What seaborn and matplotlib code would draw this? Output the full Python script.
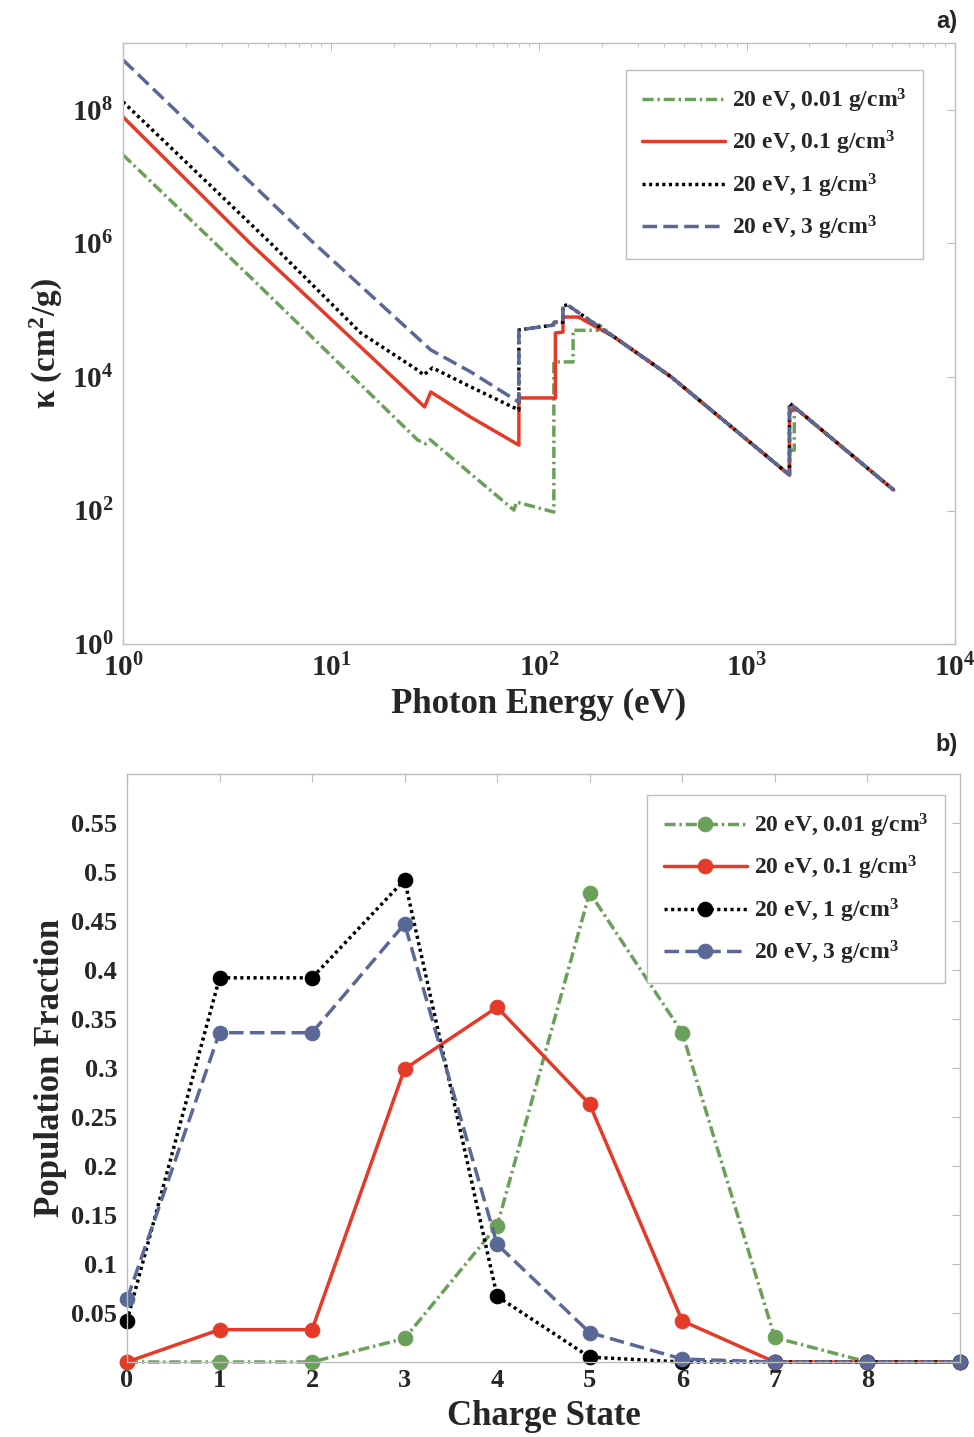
import numpy as np
import pandas as pd
import matplotlib
matplotlib.use("Agg")
import matplotlib.pyplot as plt
import matplotlib.ticker as mticker
import seaborn as sns

# ------------------- Data -------------------

labels = ["20 eV, 0.01 g/cm$^3$", "20 eV, 0.1 g/cm$^3$",
          "20 eV, 1 g/cm$^3$", "20 eV, 3 g/cm$^3$"]

# panel a: opacity kappa (cm^2/g) vs photon energy (eV)
green_E = [1, 4.09, 26.1, 28.5, 30.0, 75.8, 78, 118, 118, 146, 146, 192, 195,
           230, 433, 1603, 1603, 1690, 1690, 5080]
green_k = [2.12e7, 3.15e5, 1.14e3, 1.0e3, 1.15e3, 101.6, 134, 95, 1.68e4, 1.68e4,
           5.0e4, 5.0e4, 6.0e4, 3.97e4, 1.0e4, 340, 800, 800, 3.5e3, 203]

red_E = [1, 4.09, 28.2, 30.2, 47, 80.1, 80.1, 120, 120, 130.5, 130.5, 155,
         230, 433, 1603, 1603, 1700, 5080]
red_k = [7.85e7, 1.0e6, 3.56e3, 5.96e3, 2.5e3, 955, 4.85e3, 4.85e3, 4.57e4,
         4.7e4, 7.9e4, 7.9e4, 3.97e4, 1.0e4, 340, 2.9e3, 3.5e3, 203]

black_E = [1, 5.11, 13.9, 26.1, 27.9, 30.8, 47, 80.1, 80.1, 118, 118, 130.5,
           130.5, 137, 230, 433, 1603, 1603, 5080]
black_k = [1.32e8, 1.02e6, 4.57e4, 1.27e4, 1.07e4, 1.37e4, 7.1e3, 3.2e3, 5.06e4,
           6.0e4, 6.6e4, 6.6e4, 1.16e5, 1.2e5, 3.97e4, 1.0e4, 340, 4.07e3, 203]

blue_E = [1, 7.96, 30.2, 47, 80.1, 80.1, 118, 118, 130.5, 130.5, 137, 230, 433,
          1603, 1603, 5080]
blue_k = [5.6e8, 1.13e6, 2.54e4, 1.19e4, 4.2e3, 5.06e4, 6.0e4, 6.6e4, 6.6e4,
          1.16e5, 1.2e5, 3.97e4, 1.0e4, 340, 4.07e3, 203]

# panel b: population fraction vs charge state
charge = [0, 1, 2, 3, 4, 5, 6, 7, 8, 9]
pop_001 = [0, 0, 0, 0.024, 0.139, 0.479, 0.336, 0.025, 0, 0]
pop_01 = [0, 0.033, 0.033, 0.299, 0.362, 0.263, 0.042, 0, 0, 0]
pop_1 = [0.042, 0.392, 0.392, 0.492, 0.067, 0.005, 0, 0, 0, 0]
pop_3 = [0.064, 0.336, 0.336, 0.447, 0.120, 0.030, 0.003, 0, 0, 0]

colors = ["#6ba05a", "#e63a28", "#000000", "#5a6896"]
styles = [(0, (3.2, 1.1, 0.7, 1.1)), "-", (0, (0.9, 1.0)), (0, (4.2, 1.8))]

# ------------------- Style -------------------
sns.set_style("white")
plt.rcParams['font.family'] = ['Liberation Serif', 'DejaVu Serif']
plt.rcParams['font.weight'] = 'bold'
plt.rcParams['mathtext.fontset'] = 'custom'
plt.rcParams['mathtext.rm'] = 'Liberation Serif:bold'
plt.rcParams['mathtext.bf'] = 'Liberation Serif:bold'
plt.rcParams['mathtext.it'] = 'Liberation Serif:bold:italic'

SPINE = "#bdbdbd"
LW = 2.5


def style_axes(ax, labelsize):
    for s in ax.spines.values():
        s.set_color(SPINE)
        s.set_linewidth(1.0)
    ax.tick_params(which='both', direction='in', top=True, right=True,
                   color=SPINE, labelsize=labelsize, pad=7)
    ax.tick_params(which='major', length=6)
    ax.tick_params(which='minor', length=3)


def add_legend(ax, anchor):
    leg = ax.legend(loc='upper right', bbox_to_anchor=anchor, fontsize=17,
                    handlelength=3.5, handletextpad=0.3, labelspacing=0.6,
                    borderpad=0.7, borderaxespad=0.0,
                    fancybox=False, edgecolor=SPINE, framealpha=1)
    leg.get_frame().set_linewidth(1.0)
    return leg


fig = plt.figure(figsize=(9.74, 14.37), dpi=100)

# ------------------- Panel a -------------------
ax1 = fig.add_axes([0.1263, 0.5518, 0.854, 0.4182])
series_a = [(green_E, green_k), (red_E, red_k), (black_E, black_k), (blue_E, blue_k)]
for (E, k), lab, c, ls in zip(series_a, labels, colors, styles):
    sns.lineplot(x=E, y=k, ax=ax1, estimator=None, sort=False, color=c,
                 linestyle=ls, linewidth=LW, label=lab)
ax1.set_xscale('log')
ax1.set_yscale('log')
ax1.set_xlim(1, 1e4)
ax1.set_ylim(1, 1e9)
ax1.xaxis.set_major_locator(mticker.FixedLocator([1, 10, 100, 1000, 10000]))
ax1.xaxis.set_minor_locator(mticker.LogLocator(base=10, subs=np.arange(2, 10), numticks=20))
ax1.yaxis.set_major_locator(mticker.FixedLocator([1, 1e2, 1e4, 1e6, 1e8]))
ax1.yaxis.set_minor_locator(mticker.NullLocator())
pow_fmt = mticker.FuncFormatter(lambda v, p: r'$\mathbf{10^{%d}}$' % round(np.log10(v)))
ax1.xaxis.set_major_formatter(pow_fmt)
ax1.yaxis.set_major_formatter(pow_fmt)
style_axes(ax1, 21)
ax1.set_xlabel("Photon Energy (eV)", fontsize=25, fontweight='bold', labelpad=4)
ax1.set_ylabel("κ (cm$^{2}$/g)", fontsize=24, fontweight='bold', labelpad=5)
add_legend(ax1, (0.962, 0.955))

# ------------------- Panel b -------------------
ax2 = fig.add_axes([0.1304, 0.0522, 0.855, 0.4092])
series_b = [pop_001, pop_01, pop_1, pop_3]
for pop, lab, c, ls in zip(series_b, labels, colors, styles):
    sns.lineplot(x=charge, y=pop, ax=ax2, estimator=None, sort=False, color=c,
                 linestyle=ls, linewidth=LW, marker='o', markersize=10.5,
                 markeredgecolor=c, label=lab, clip_on=False)
ax2.set_xlim(0, 9)
ax2.set_ylim(0, 0.6)
ax2.set_xticks(range(0, 9))
yt = [0.05, 0.1, 0.15, 0.2, 0.25, 0.3, 0.35, 0.4, 0.45, 0.5, 0.55]
ax2.set_yticks(yt)
ax2.set_yticklabels([f"{v:g}" for v in yt])
style_axes(ax2, 19)
ax2.tick_params(axis='x', pad=5)
ax2.set_xlabel("Charge State", fontsize=25, fontweight='bold', labelpad=6)
ax2.set_ylabel("Population Fraction", fontsize=25, fontweight='bold', labelpad=3)
add_legend(ax2, (0.982, 0.964))

# panel tags
fig.text(0.972, 0.985, "a)", ha='center', va='center', fontsize=17,
         fontweight='bold', family='Liberation Sans')
fig.text(0.972, 0.482, "b)", ha='center', va='center', fontsize=17,
         fontweight='bold', family='Liberation Sans')

fig.savefig("out.png", dpi=100)
